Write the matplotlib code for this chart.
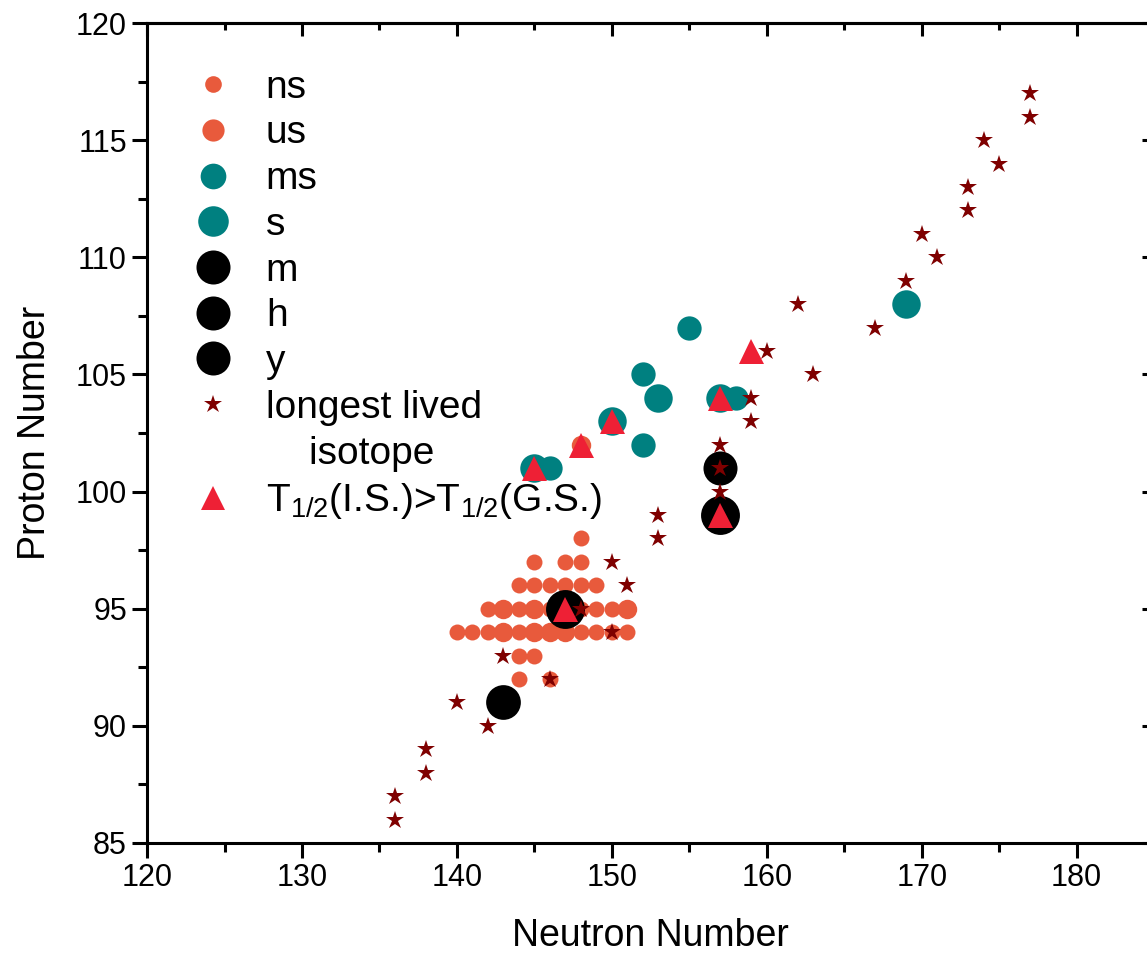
import numpy as np
import matplotlib
matplotlib.use('Agg')
import matplotlib.pyplot as plt
from matplotlib.lines import Line2D
from matplotlib.ticker import MultipleLocator

plt.rcParams['font.family'] = ['Liberation Sans', 'DejaVu Sans']
plt.rcParams['mathtext.fontset'] = 'custom'
plt.rcParams['mathtext.rm'] = 'Liberation Sans'
plt.rcParams['mathtext.it'] = 'Liberation Sans:italic'

# isomer half-life classes (neutron number N, proton number Z)
ns_n = [148, 145, 147, 148, 144, 145, 146, 147, 148, 149,
        142, 144, 146, 147, 148, 149, 150,
        140, 141, 142, 144, 148, 149, 150, 151,
        144, 145, 144, 146]
ns_z = [98, 97, 97, 97, 96, 96, 96, 96, 96, 96,
        95, 95, 95, 95, 95, 95, 95,
        94, 94, 94, 94, 94, 94, 94, 94,
        93, 93, 92, 92]
us_n = [143, 145, 151, 143, 145, 146, 147, 148]
us_z = [95, 95, 95, 94, 94, 94, 94, 102]
ms_n = [146, 152, 152, 155, 158]
ms_z = [101, 102, 105, 107, 104]
s_n = [145, 150, 153, 157, 169]
s_z = [101, 103, 104, 104, 108]
m_n = [157]
m_z = [101]
h_n = [143]
h_z = [91]
y_n = [147, 157]
y_z = [95, 99]

# longest lived isotopes
star_n = [136, 136, 138, 138, 140, 142, 143, 146, 148, 150, 150, 151,
          153, 153, 157, 157, 157, 159, 159, 160, 162, 163, 167, 169,
          170, 171, 173, 173, 174, 175, 177, 177]
star_z = [87, 86, 89, 88, 91, 90, 93, 92, 95, 94, 97, 96,
          99, 98, 102, 101, 100, 104, 103, 106, 108, 105, 107, 109,
          111, 110, 113, 112, 115, 114, 117, 116]

# T1/2(I.S.) > T1/2(G.S.)
tri_n = [145, 148, 150, 157, 159, 147, 157]
tri_z = [101, 102, 103, 104, 106, 95, 99]

orange = '#E85A3C'
teal = '#008080'
dark_red = '#7F0000'
red = '#EE2035'

fig = plt.figure(figsize=(11.47, 9.59), dpi=100)
ax = fig.add_axes([0.1282, 0.121, 0.878, 0.855])

ax.plot(ns_n, ns_z, 'o', color=orange, ms=11.5, mew=0)
ax.plot(us_n, us_z, 'o', color=orange, ms=14, mew=0)
ax.plot(ms_n, ms_z, 'o', color=teal, ms=17.5, mew=0)
ax.plot(s_n, s_z, 'o', color=teal, ms=20.5, mew=0)
ax.plot(m_n, m_z, 'o', color='black', ms=24.5, mew=0)
ax.plot(h_n, h_z, 'o', color='black', ms=25, mew=0)
ax.plot(y_n, y_z, 'o', color='black', ms=28, mew=0)
ax.plot(star_n, star_z, '*', color=dark_red, ms=13.5, mew=0)
ax.plot(tri_n, tri_z, '^', color=red, ms=18, mew=0)

ax.set_xlim(120, 185)
ax.set_ylim(85, 120)
ax.xaxis.set_major_locator(MultipleLocator(10))
ax.xaxis.set_minor_locator(MultipleLocator(5))
ax.yaxis.set_major_locator(MultipleLocator(5))
ax.yaxis.set_minor_locator(MultipleLocator(2.5))

for sp in ax.spines.values():
    sp.set_linewidth(2.2)
ax.tick_params(which='both', direction='out', width=2.2, labelsize=22,
               top=False, right=False)
ax.tick_params(which='major', length=11)
ax.tick_params(which='minor', length=6.5)

# inward ticks on top and right
top = ax.secondary_xaxis('top')
top.xaxis.set_major_locator(MultipleLocator(10))
top.xaxis.set_minor_locator(MultipleLocator(5))
top.tick_params(which='both', direction='in', width=2.2, labeltop=False)
top.tick_params(which='major', length=9)
top.tick_params(which='minor', length=5)
right = ax.secondary_yaxis('right')
right.yaxis.set_major_locator(MultipleLocator(5))
right.yaxis.set_minor_locator(MultipleLocator(2.5))
right.tick_params(which='both', direction='in', width=2.2, labelright=False)
right.tick_params(which='major', length=9)
right.tick_params(which='minor', length=5)
top.spines['top'].set_linewidth(2.2)
right.spines['right'].set_linewidth(2.2)

ax.set_xlabel('Neutron Number', fontsize=27, labelpad=18)
ax.set_ylabel('Proton Number', fontsize=27, labelpad=16)

handles = [
    Line2D([], [], ls='none', marker='o', color=orange, ms=12, mew=0),
    Line2D([], [], ls='none', marker='o', color=orange, ms=16, mew=0),
    Line2D([], [], ls='none', marker='o', color=teal, ms=18.5, mew=0),
    Line2D([], [], ls='none', marker='o', color=teal, ms=22, mew=0),
    Line2D([], [], ls='none', marker='o', color='black', ms=24.5, mew=0),
    Line2D([], [], ls='none', marker='o', color='black', ms=24.5, mew=0),
    Line2D([], [], ls='none', marker='o', color='black', ms=24.5, mew=0),
    Line2D([], [], ls='none', marker='*', color=dark_red, ms=13.5, mew=0),
    Line2D([], [], ls='none', marker=None),
    Line2D([], [], ls='none', marker='^', color=red, ms=17, mew=0),
]
labels = ['ns', 'us', 'ms', 's', 'm', 'h', 'y', 'longest lived',
          '    isotope', r'T$_{\mathrm{1/2}}$(I.S.)>T$_{\mathrm{1/2}}$(G.S.)']
ax.legend(handles, labels, loc='upper left', bbox_to_anchor=(0.031, 0.962),
          frameon=False, fontsize=28, handlelength=1.0, handletextpad=0.85,
          labelspacing=0.25, borderaxespad=0, borderpad=0.4)

fig.savefig('out.png', dpi=100)
